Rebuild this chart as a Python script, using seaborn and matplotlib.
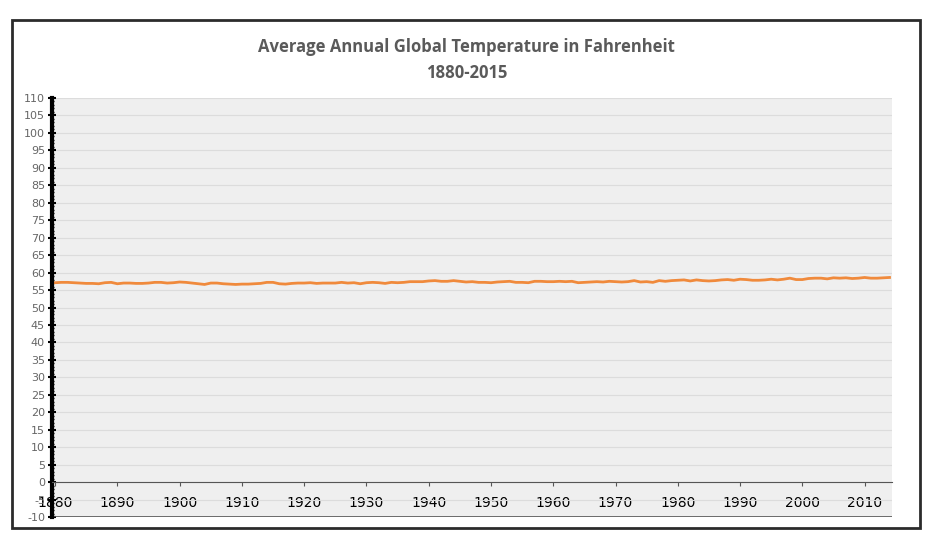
import matplotlib
matplotlib.use("Agg")
import matplotlib.pyplot as plt
import seaborn as sns
import numpy as np
import pandas as pd
from matplotlib.patches import Rectangle
from matplotlib.ticker import MultipleLocator

years = list(range(1880, 2015))
temps_f = [
57.1,57.2,57.2,57.1,57.0,56.9,56.9,56.8,57.1,57.2,
56.8,57.0,57.0,56.9,56.9,57.0,57.2,57.2,57.0,57.1,
57.3,57.2,57.0,56.8,56.6,57.0,57.0,56.8,56.7,56.6,
56.7,56.7,56.8,56.9,57.2,57.2,56.8,56.7,56.9,57.0,
57.0,57.1,56.9,57.0,57.0,57.0,57.2,57.0,57.1,56.8,
57.1,57.2,57.1,56.9,57.2,57.1,57.2,57.4,57.4,57.4,
57.6,57.7,57.5,57.5,57.7,57.5,57.3,57.4,57.2,57.2,
57.1,57.3,57.4,57.5,57.2,57.2,57.1,57.5,57.5,57.4,
57.4,57.5,57.4,57.5,57.1,57.2,57.3,57.4,57.3,57.5,
57.4,57.3,57.4,57.7,57.3,57.4,57.2,57.7,57.5,57.7,
57.8,57.9,57.6,57.9,57.7,57.6,57.7,57.9,58.0,57.8,
58.1,58.0,57.8,57.8,57.9,58.1,57.9,58.1,58.4,58.0,
58.0,58.3,58.4,58.4,58.2,58.5,58.4,58.5,58.3,58.4,
58.6,58.4,58.4,58.5,58.6]
x_ticks = list(range(1880, 2011, 10))
y_ticks = list(range(-10, 111, 5))
title = "Average Annual Global Temperature in Fahrenheit\n1880-2015"

df = pd.DataFrame({"year": years, "temp": temps_f})

fig = plt.figure(figsize=(9.42, 5.48), dpi=100)
fig.patches.append(Rectangle((12/942, 20/548), 908/942, 508/548, transform=fig.transFigure,
                             fill=False, edgecolor="#2b2b2b", linewidth=2))
ax = fig.add_axes([52/942, 31/548, 840/942, 419/548])
ax.set_facecolor("#efefef")
sns.lineplot(data=df, x="year", y="temp", ax=ax, color="#f08a3c", linewidth=2)
ax.set_xlim(1879.5, 2014.4)
ax.set_ylim(-10, 110)
ax.set_yticks(y_ticks)
ax.set_yticklabels([str(v) for v in y_ticks], fontsize=8, color="#666666")
ax.yaxis.set_minor_locator(MultipleLocator(1))
ax.set_xticks(x_ticks)
ax.set_xticklabels([str(v) for v in x_ticks], fontsize=7.5, fontweight="bold", color="#444444")
ax.yaxis.grid(True, color="#dcdcdc", linewidth=0.8)
ax.xaxis.grid(False)
ax.set_axisbelow(True)
ax.set_xlabel(""); ax.set_ylabel("")
ax.spines["top"].set_visible(False)
ax.spines["right"].set_visible(False)
ax.spines["left"].set_linewidth(3)
ax.spines["bottom"].set_position(("data", 0))
ax.spines["bottom"].set_color("#555555")
ax.axhline(-10, color="#555555", linewidth=1.2)
ax.tick_params(axis="y", which="major", length=6, width=1.5, direction="inout", pad=2)
ax.tick_params(axis="y", which="minor", length=3, width=1, direction="inout")
ax.tick_params(axis="x", length=3, direction="out", pad=12, color="#555555")
for lab in ax.get_xticklabels():
    lab.set_verticalalignment("center")
fig.text(0.495, 0.89, title, ha="center", va="center", fontsize=12,
         fontweight="bold", color="#5a5a5a", linespacing=1.6, family="Open Sans")
fig.savefig("out.png", dpi=100, facecolor="white")
